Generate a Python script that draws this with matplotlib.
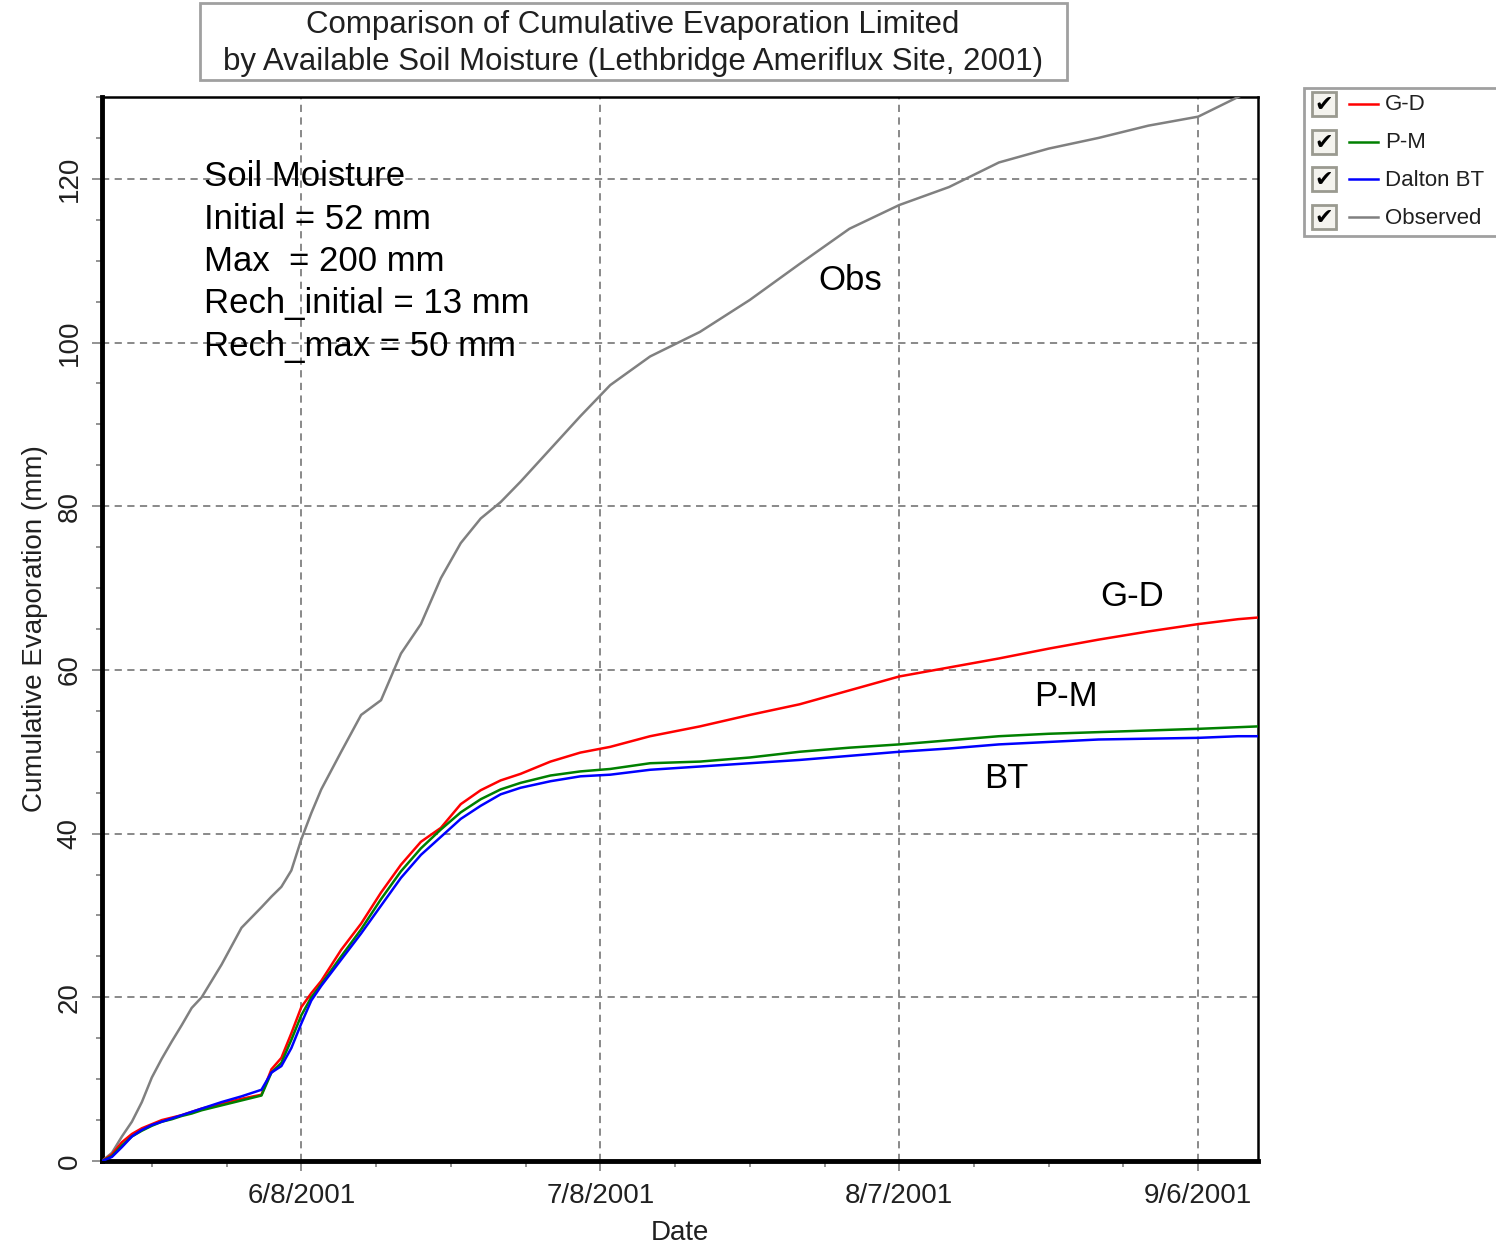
"""Cumulative evaporation limited by soil moisture, Lethbridge 2001."""
import datetime as dt

import matplotlib
matplotlib.use("Agg")
import matplotlib.pyplot as plt
import matplotlib.dates as mdates
from matplotlib.patches import Rectangle
from matplotlib.ticker import MultipleLocator, FixedLocator

plt.rcParams["font.family"] = ["Liberation Sans", "DejaVu Sans"]

# ---- data (days since 2001-05-19, cumulative mm) ----
START = dt.date(2001, 5, 19)
days = [0, 1, 2, 3, 4, 5, 6, 7, 8, 9, 10, 12, 14, 16, 17, 18, 19, 20, 21, 22,
        24, 26, 28, 30, 32, 34, 36, 38, 40, 42, 45, 48, 51, 55, 60, 65, 70, 75,
        80, 85, 90, 95, 100, 105, 110, 112, 114, 116]
observed = [0, 1.0, 3.0, 4.8, 7.2, 10.2, 12.5, 14.6, 16.6, 18.7, 20.0, 24.0, 28.5,
            31.0, 32.3, 33.5, 35.5, 39.3, 42.5, 45.4, 50.0, 54.5, 56.3, 62.0, 65.6,
            71.2, 75.5, 78.5, 80.5, 83.0, 87.0, 91.0, 94.8, 98.3, 101.3, 105.2,
            109.6, 113.9, 116.8, 119.0, 122.0, 123.7, 125.0, 126.5, 127.6, 128.8,
            130.0, 131.2]
gd = [0, 0.8, 2.3, 3.3, 4.0, 4.5, 5.0, 5.3, 5.6, 6.0, 6.4, 7.0, 7.6, 8.1, 11.2,
      12.6, 15.6, 18.8, 20.5, 22.0, 25.8, 29.0, 32.8, 36.2, 39.0, 40.7, 43.6,
      45.3, 46.5, 47.3, 48.8, 49.9, 50.6, 51.9, 53.1, 54.5, 55.8, 57.5, 59.2,
      60.3, 61.4, 62.6, 63.7, 64.7, 65.6, 65.9, 66.2, 66.4]
pm = [0, 0.6, 1.9, 3.0, 3.7, 4.3, 4.8, 5.1, 5.5, 5.8, 6.2, 6.8, 7.4, 8.0, 10.8,
      12.0, 14.8, 17.8, 20.0, 21.6, 25.0, 28.3, 32.0, 35.4, 38.2, 40.5, 42.6,
      44.2, 45.4, 46.2, 47.1, 47.6, 47.9, 48.6, 48.8, 49.3, 50.0, 50.5, 50.9,
      51.4, 51.9, 52.2, 52.4, 52.6, 52.8, 52.9, 53.0, 53.1]
bt = [0, 0.5, 1.7, 3.0, 3.8, 4.4, 4.8, 5.2, 5.6, 6.0, 6.4, 7.2, 7.9, 8.7, 10.8,
      11.6, 13.8, 16.8, 19.6, 21.4, 24.6, 27.8, 31.2, 34.6, 37.4, 39.6, 41.8,
      43.4, 44.8, 45.6, 46.4, 47.0, 47.2, 47.8, 48.2, 48.6, 49.0, 49.5, 50.0,
      50.4, 50.9, 51.2, 51.5, 51.6, 51.7, 51.8, 51.9, 51.9]

series = ["G-D", "P-M", "Dalton BT", "Observed"]
colors = ["#ff0000", "#008000", "#0000ff", "#808080"]
major_dates = [dt.date(2001, 6, 8), dt.date(2001, 7, 8), dt.date(2001, 8, 7), dt.date(2001, 9, 6)]
soil_text = ["Soil Moisture", "Initial = 52 mm", "Max  = 200 mm",
             "Rech_initial = 13 mm", "Rech_max = 50 mm"]

dates = [START + dt.timedelta(days=d) for d in days]

fig = plt.figure(figsize=(14.96, 12.47), dpi=100)
W, H = 1496, 1247
ax = fig.add_axes([102 / W, 1 - 1161 / H, (1258 - 102) / W, (1161 - 97) / H])

ax.plot(dates, observed, color=colors[3], lw=1.8, zorder=3)
ax.plot(dates, gd, color=colors[0], lw=1.8, zorder=4)
ax.plot(dates, pm, color=colors[1], lw=1.8, zorder=4)
ax.plot(dates, bt, color=colors[2], lw=1.8, zorder=5)

ax.set_xlim(START, START + dt.timedelta(days=116))
ax.set_ylim(0, 130)
ax.xaxis.set_major_locator(FixedLocator(mdates.date2num(major_dates)))
ax.xaxis.set_major_formatter(plt.FuncFormatter(
    lambda v, p: "{d.month}/{d.day}/{d.year}".format(d=mdates.num2date(v))))
base = mdates.date2num(major_dates[0])
ax.xaxis.set_minor_locator(FixedLocator([base + 7.5 * k for k in range(-2, 14)]))
ax.yaxis.set_major_locator(MultipleLocator(20))
ax.yaxis.set_minor_locator(MultipleLocator(5))

ax.grid(True, which="major", color="#808080", ls=(0, (4, 3)), lw=1.3)
ax.tick_params(which="major", length=7, width=1.2, color="#808080", labelsize=20,
               labelcolor="#202020")
ax.tick_params(which="minor", length=4, width=1.2, color="#808080")
ax.tick_params(axis="x", pad=9)
for lab in ax.get_yticklabels():
    lab.set_rotation(90)
    lab.set_va("center")
ax.tick_params(axis="y", pad=7)

for side, lw in [("left", 3.5), ("bottom", 3.5), ("top", 1.8), ("right", 1.8)]:
    ax.spines[side].set_linewidth(lw)
    ax.spines[side].set_color("black")

ax.set_xlabel("Date", fontsize=20, color="#202020", labelpad=8)
ax.set_ylabel("Cumulative Evaporation (mm)", fontsize=20, color="#202020", labelpad=6)

# annotation block
for i, line in enumerate(soil_text):
    fig.text(204 / W, 1 - (177 + 42.3 * i) / H, line, fontsize=25,
             va="center", ha="left")

label_pos = [("Obs", 850, 281), ("G-D", 1132, 597), ("P-M", 1066, 696), ("BT", 1006, 779)]
for txt, px, py in label_pos:
    fig.text(px / W, 1 - py / H, txt, fontsize=25, ha="center", va="center")

# title box
fig.patches.append(Rectangle((200 / W, 1 - 80 / H), 867 / W, 77 / H, transform=fig.transFigure,
                             fill=False, edgecolor="#a0a0a0", lw=2))
fig.text(633 / W, 1 - 25 / H, "Comparison of Cumulative Evaporation Limited",
         fontsize=22.5, ha="center", va="center", color="#202020")
fig.text(633 / W, 1 - 62 / H, "by Available Soil Moisture (Lethbridge Ameriflux Site, 2001)",
         fontsize=22.5, ha="center", va="center", color="#202020")

# checkbox legend
lax = fig.add_axes([1303 / W, 1 - 238 / H, (W - 1303) / W, 151 / H])
lax.set_xlim(0, W - 1303)
lax.set_ylim(151, 0)
lax.axis("off")
lax.add_patch(Rectangle((1, 1), W - 1303, 148, fill=False, edgecolor="#a0a0a0", lw=2))
for i, (name, c) in enumerate(zip(series, colors)):
    y = 17 + 37.7 * i
    lax.add_patch(Rectangle((9, y - 12), 24, 24, facecolor="#f4f3ee", edgecolor="#9a9a90", lw=2))
    lax.text(21, y + 1, "\u2714", fontsize=16, ha="center", va="center",
             family="DejaVu Sans", color="black")
    lax.plot([46, 75], [y, y], color=c, lw=1.8)
    lax.text(82, y + 1, name, fontsize=16, ha="left", va="center", color="#202020")

fig.savefig("out.png", dpi=100, facecolor="white")
